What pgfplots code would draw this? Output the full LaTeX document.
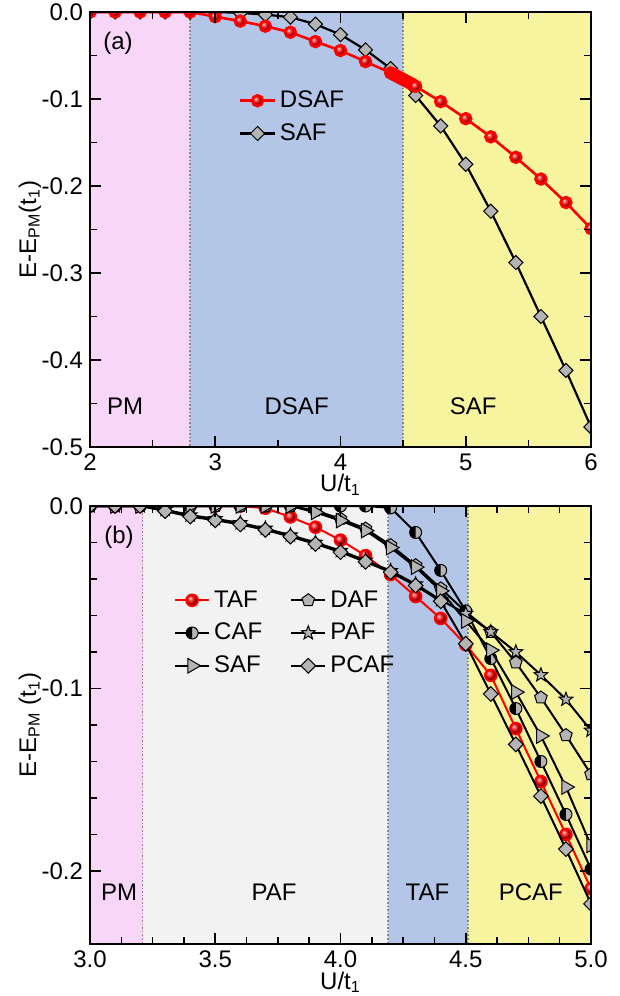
\documentclass[border=0pt]{standalone}
\usepackage{fontspec}
\setmainfont{Liberation Sans}
\usepackage{pgfplots}
\pgfplotsset{compat=1.18}
\definecolor{pmpink}{RGB}{248,214,248}
\definecolor{afblue}{RGB}{180,198,231}
\definecolor{afyellow}{RGB}{247,244,160}
\definecolor{pafgray}{RGB}{242,242,242}
\definecolor{mkgray}{RGB}{180,180,180}
\definecolor{divgray}{RGB}{135,135,135}

\pgfdeclareplotmark{fstar}{%
 \pgfpathmoveto{\pgfpointpolar{90}{\pgfplotmarksize}}%
 \pgfpathlineto{\pgfpointpolar{126}{0.42*\pgfplotmarksize}}%
 \pgfpathlineto{\pgfpointpolar{162}{\pgfplotmarksize}}%
 \pgfpathlineto{\pgfpointpolar{198}{0.42*\pgfplotmarksize}}%
 \pgfpathlineto{\pgfpointpolar{234}{\pgfplotmarksize}}%
 \pgfpathlineto{\pgfpointpolar{270}{0.42*\pgfplotmarksize}}%
 \pgfpathlineto{\pgfpointpolar{306}{\pgfplotmarksize}}%
 \pgfpathlineto{\pgfpointpolar{342}{0.42*\pgfplotmarksize}}%
 \pgfpathlineto{\pgfpointpolar{18}{\pgfplotmarksize}}%
 \pgfpathlineto{\pgfpointpolar{54}{0.42*\pgfplotmarksize}}%
 \pgfpathclose
 \pgfusepathqfillstroke}

\pgfdeclareplotmark{halfcirc}{%
 \pgfpathcircle{\pgfpointorigin}{\pgfplotmarksize}%
 \pgfsetfillcolor{mkgray}\pgfusepathqfill
 \pgfpathmoveto{\pgfqpoint{0pt}{\pgfplotmarksize}}%
 \pgfpatharc{90}{270}{\pgfplotmarksize}%
 \pgfpathclose
 \pgfsetfillcolor{black}\pgfusepathqfill
 \pgfpathcircle{\pgfpointorigin}{\pgfplotmarksize}%
 \pgfusepathqstroke}

\newcommand{\fs}{\fontsize{12}{14}\selectfont}

\pgfplotsset{
 myaxis/.style={
  scale only axis, axis on top, clip marker paths=true,
  axis line style={line width=1.1pt},
  every tick/.style={black, line width=0.9pt},
  every minor tick/.append style={line width=0.8pt},
  major tick length=5.5pt, minor tick length=3.3pt,
  tick label style={font=\fs},
  label style={font=\fs},
  legend style={font=\fs, draw=none, fill=none, row sep=2.5pt},
  /pgf/number format/assume math mode=true,
  legend cell align=left,
 }
}

\begin{document}
\begin{tikzpicture}
\path[use as bounding box] (0,0) rectangle (310pt,498pt);

% ---------------- panel (a)
\begin{axis}[myaxis, at={(45pt,274.5pt)}, anchor=south west,
 width=250.5pt, height=217.5pt,
 xmin=2, xmax=6, ymin=-0.5, ymax=0,
 xtick={2,3,4,5,6}, minor x tick num=1,
 ytick={-0.5,-0.4,-0.3,-0.2,-0.1,0}, minor y tick num=1,
 yticklabel style={/pgf/number format/fixed, /pgf/number format/fixed zerofill, /pgf/number format/precision=1},
 xlabel={U/t\textsubscript{1}},
 ylabel={E-E\textsubscript{PM}(t\textsubscript{1})},
 xlabel style={at={(axis description cs:0.5,-0.087)}, anchor=center},
 ylabel style={at={(axis description cs:-0.12,0.5)}, anchor=center},
 legend style={at={(0.285,0.838)}, anchor=north west},
 reverse legend,
]
\addplot[draw=none, fill=pmpink, forget plot] coordinates {(2,0.02) (2.8,0.02) (2.8,-0.52) (2,-0.52)} -- cycle;
\addplot[draw=none, fill=afblue, forget plot] coordinates {(2.8,0.02) (4.5,0.02) (4.5,-0.52) (2.8,-0.52)} -- cycle;
\addplot[draw=none, fill=afyellow, forget plot] coordinates {(4.5,0.02) (6,0.02) (6,-0.52) (4.5,-0.52)} -- cycle;
\addplot[divgray, densely dotted, line width=0.8pt, forget plot] coordinates {(2.8,0) (2.8,-0.5)};
\addplot[divgray, densely dotted, line width=0.8pt, forget plot] coordinates {(4.5,0) (4.5,-0.5)};

\addplot[black, line width=1.1pt, mark=square*, mark size=2.5pt,
  mark options={rotate=45, fill=mkgray, draw=black, line width=0.5pt}] coordinates {
 (2.0,0) (2.2,0) (2.4,0) (2.6,0) (2.8,0) (3.0,0) (3.2,-0.001) (3.4,-0.003)
 (3.6,-0.006) (3.8,-0.014) (4.0,-0.026) (4.2,-0.0435) (4.4,-0.065) (4.6,-0.096)
 (4.8,-0.131) (5.0,-0.175) (5.2,-0.229) (5.4,-0.288) (5.6,-0.350) (5.8,-0.412) (6.0,-0.477)};
\addlegendentry{SAF}
\addplot[red, line width=1.3pt, mark=ball, mark size=2.7pt, mark options={ball color=red}] coordinates {
 (2.0,0) (2.2,0) (2.4,0) (2.6,0) (2.8,0) (3.0,-0.0054) (3.2,-0.0105) (3.4,-0.0163)
 (3.6,-0.0233) (3.8,-0.0340) (4.0,-0.0443) (4.2,-0.0570)
 (4.40,-0.0700) (4.42,-0.0715) (4.44,-0.0730) (4.46,-0.0745) (4.48,-0.0760) (4.50,-0.0775)
 (4.52,-0.0790) (4.54,-0.0805) (4.56,-0.0820) (4.58,-0.0837) (4.60,-0.0855)
 (4.8,-0.103) (5.0,-0.1226) (5.2,-0.1435) (5.4,-0.167) (5.6,-0.192) (5.8,-0.219) (6.0,-0.249)};
\addlegendentry{DSAF}

\node[font=\fs] at (axis cs:2.224,-0.0355) {(a)};
\node[font=\fs] at (axis cs:2.28,-0.4536) {PM};
\node[font=\fs] at (axis cs:3.65,-0.4536) {DSAF};
\node[font=\fs] at (axis cs:5.06,-0.4536) {SAF};
\end{axis}

% ---------------- panel (b)
\begin{axis}[myaxis, at={(45pt,26pt)}, anchor=south west,
 width=250.5pt, height=219pt,
 xmin=3, xmax=5, ymin=-0.24, ymax=0,
 xtick={3,3.5,4,4.5,5}, minor x tick num=3,
 ytick={-0.2,-0.1,0}, minor y tick num=4,
 xticklabel style={/pgf/number format/fixed, /pgf/number format/fixed zerofill, /pgf/number format/precision=1},
 yticklabel style={/pgf/number format/fixed, /pgf/number format/fixed zerofill, /pgf/number format/precision=1},
 xlabel={U/t\textsubscript{1}},
 ylabel={E-E\textsubscript{PM} (t\textsubscript{1})},
 xlabel style={at={(axis description cs:0.5,-0.087)}, anchor=center},
 ylabel style={at={(axis description cs:-0.12,0.5)}, anchor=center},
 legend columns=2,
 legend style={at={(0.155,0.826)}, anchor=north west,
   /tikz/every even column/.append style={column sep=12pt}},
]
\addplot[draw=none, fill=pmpink, forget plot] coordinates {(3,0.01) (3.21,0.01) (3.21,-0.25) (3,-0.25)} -- cycle;
\addplot[draw=none, fill=pafgray, forget plot] coordinates {(3.21,0.01) (4.19,0.01) (4.19,-0.25) (3.21,-0.25)} -- cycle;
\addplot[draw=none, fill=afblue, forget plot] coordinates {(4.19,0.01) (4.51,0.01) (4.51,-0.25) (4.19,-0.25)} -- cycle;
\addplot[draw=none, fill=afyellow, forget plot] coordinates {(4.51,0.01) (5,0.01) (5,-0.25) (4.51,-0.25)} -- cycle;
\addplot[divgray, densely dotted, line width=0.8pt, forget plot] coordinates {(3.21,0) (3.21,-0.24)};
\addplot[divgray, densely dotted, line width=0.8pt, forget plot] coordinates {(4.19,0) (4.19,-0.24)};
\addplot[divgray, densely dotted, line width=0.8pt, forget plot] coordinates {(4.51,0) (4.51,-0.24)};

% TAF
\addplot[red, line width=1pt, mark=ball, mark size=2.9pt, mark options={ball color=red}] coordinates {
 (3.0,0) (3.1,0) (3.2,0) (3.3,0) (3.4,0) (3.5,0) (3.6,0) (3.7,-0.0012) (3.8,-0.0060)
 (3.9,-0.0116) (4.0,-0.0187) (4.1,-0.0272) (4.2,-0.0376) (4.3,-0.0496) (4.4,-0.0616)
 (4.5,-0.0760) (4.6,-0.0928) (4.7,-0.1220) (4.8,-0.1510) (4.9,-0.1800) (5.0,-0.2097)};
\addlegendentry{TAF}
% DAF
\addplot[black, line width=1pt, mark=pentagon*, mark size=3.3pt,
  mark options={fill=mkgray, draw=black, line width=0.5pt}] coordinates {
 (3.0,0) (3.1,0) (3.2,0) (3.3,0) (3.4,0) (3.5,0) (3.6,0) (3.7,0) (3.8,0)
 (3.9,-0.0025) (4.0,-0.0070) (4.1,-0.0124) (4.2,-0.0215) (4.3,-0.0325) (4.4,-0.0452)
 (4.5,-0.0580) (4.6,-0.0690) (4.7,-0.0858) (4.8,-0.1050) (4.9,-0.1256) (5.0,-0.1470)};
\addlegendentry{DAF}
% CAF
\addplot[black, line width=1pt, mark=halfcirc, mark size=3pt,
  mark options={line width=0.5pt}] coordinates {
 (3.0,0) (3.1,0) (3.2,0) (3.3,0) (3.4,0) (3.5,0) (3.6,0) (3.7,0) (3.8,0) (3.9,0)
 (4.0,0) (4.1,0) (4.2,-0.0010) (4.3,-0.0145) (4.4,-0.0353) (4.5,-0.0575)
 (4.6,-0.0836) (4.7,-0.1110) (4.8,-0.1400) (4.9,-0.1690) (5.0,-0.1990)};
\addlegendentry{CAF}
% PAF
\addplot[black, line width=1pt, mark=fstar, mark size=3.6pt,
  mark options={fill=mkgray, draw=black, line width=0.5pt}] coordinates {
 (3.0,0) (3.1,0) (3.2,0) (3.3,-0.0020) (3.4,-0.0050) (3.5,-0.0070) (3.6,-0.0093)
 (3.7,-0.0123) (3.8,-0.0160) (3.9,-0.0200) (4.0,-0.0245) (4.1,-0.0298) (4.2,-0.0355)
 (4.3,-0.0428) (4.4,-0.0515) (4.5,-0.0590) (4.6,-0.0690) (4.7,-0.0800) (4.8,-0.0926)
 (4.9,-0.1060) (5.0,-0.1230)};
\addlegendentry{PAF}
% SAF
\addplot[black, line width=1pt, mark=triangle*, mark size=4.2pt,
  mark options={rotate=-90, fill=mkgray, draw=black, line width=0.5pt}] coordinates {
 (3.0,0) (3.1,0) (3.2,0) (3.3,0) (3.4,0) (3.5,0) (3.6,0) (3.7,0) (3.8,0)
 (3.9,-0.0035) (4.0,-0.0080) (4.1,-0.0135) (4.2,-0.0228) (4.3,-0.0335) (4.4,-0.0465)
 (4.5,-0.0630) (4.6,-0.0790) (4.7,-0.1020) (4.8,-0.1260) (4.9,-0.1540) (5.0,-0.1860)};
\addlegendentry{SAF}
% PCAF
\addplot[black, line width=1pt, mark=square*, mark size=2.6pt,
  mark options={rotate=45, fill=mkgray, draw=black, line width=0.5pt}] coordinates {
 (3.0,0) (3.1,0) (3.2,0) (3.3,-0.0028) (3.4,-0.0058) (3.5,-0.0078) (3.6,-0.0101)
 (3.7,-0.0131) (3.8,-0.0168) (3.9,-0.0208) (4.0,-0.0253) (4.1,-0.0306) (4.2,-0.0363)
 (4.3,-0.0436) (4.4,-0.0522) (4.5,-0.0755) (4.6,-0.1030) (4.7,-0.1306) (4.8,-0.1590)
 (4.9,-0.1880) (5.0,-0.2180)};
\addlegendentry{PCAF}

\node[font=\fs] at (axis cs:3.116,-0.017) {(b)};
\node[font=\fs] at (axis cs:3.116,-0.2115) {PM};
\node[font=\fs] at (axis cs:3.735,-0.2115) {PAF};
\node[font=\fs] at (axis cs:4.347,-0.2115) {TAF};
\node[font=\fs] at (axis cs:4.76,-0.2115) {PCAF};
\end{axis}
\end{tikzpicture}
\end{document}
